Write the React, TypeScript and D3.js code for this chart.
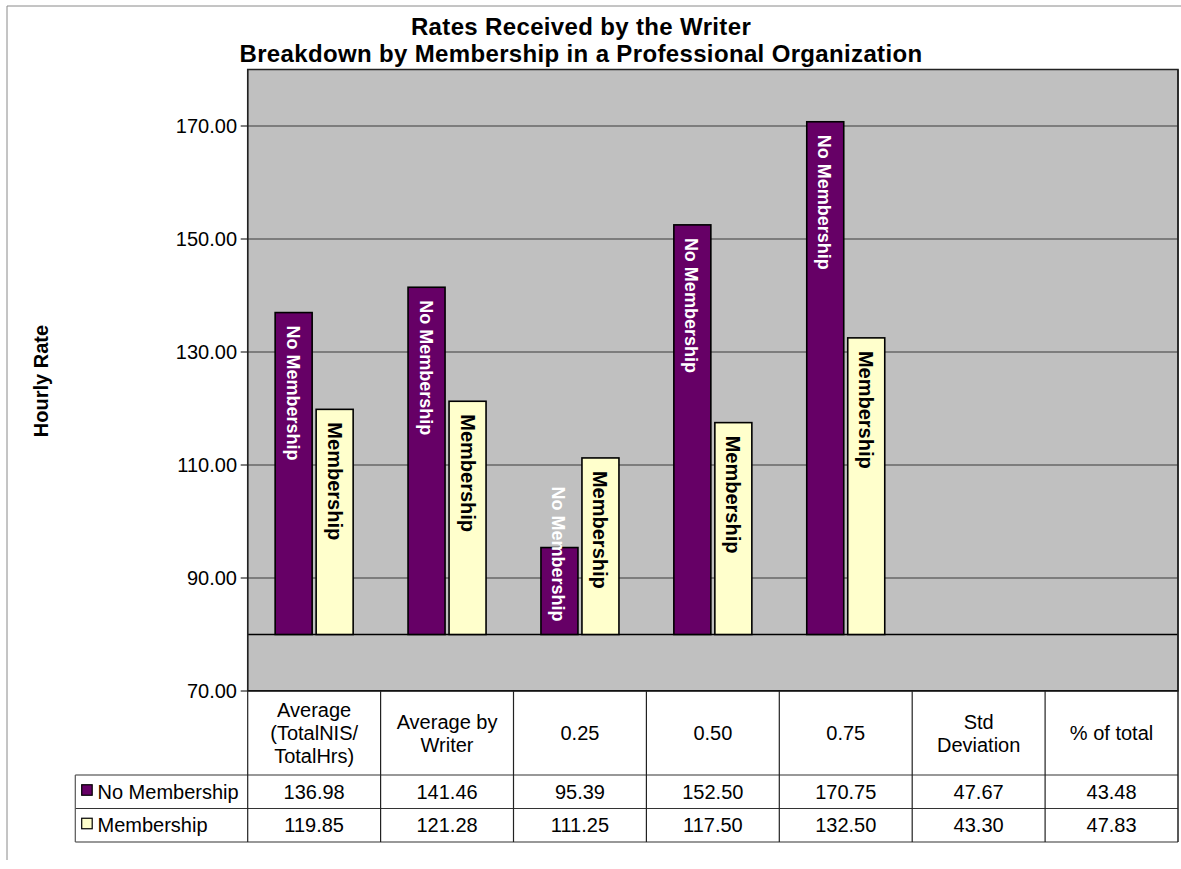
import React from "react";
import * as d3 from "d3";

const categories: string[][] = [
  ["Average", "(TotalNIS/", "TotalHrs)"],
  ["Average by", "Writer"],
  ["0.25"],
  ["0.50"],
  ["0.75"],
  ["Std", "Deviation"],
  ["% of total"],
];
const categoryKeys = ["avgTotal", "avgWriter", "q25", "q50", "q75", "std", "pct"];
const noMembership = [136.98, 141.46, 95.39, 152.5, 170.75, 47.67, 43.48];
const membership = [119.85, 121.28, 111.25, 117.5, 132.5, 43.3, 47.83];
const seriesNames = ["No Membership", "Membership"];
const seriesColors = ["#660066", "#FFFFCC"];
const labelColors = ["#FFFFFF", "#000000"];
const yTicks = [70, 90, 110, 130, 150, 170];
const yDomain = [70, 180];
const crossValue = 80;
const titleLines = ["Rates Received by the Writer", "Breakdown by Membership in a Professional Organization"];
const yTitle = "Hourly Rate";

const FONT = "'Liberation Sans', Arial, Helvetica, sans-serif";

export default function App() {
  const W = 1181;
  const H = 869;
  const plotL = 247.7;
  const plotR = 1178;
  const plotT = 69.5;
  const plotB = 691;
  const headerB = 775;
  const row1B = 808.5;
  const row2B = 842;
  const legendL = 75.3;

  const y = d3.scaleLinear().domain(yDomain).range([plotB, plotT]);
  const x = d3.scaleBand<string>().domain(categoryKeys).range([plotL, plotR]).padding(0);
  const inner = d3
    .scaleBand<string>()
    .domain(seriesNames)
    .range([-39, 39])
    .paddingInner(0.0976)
    .paddingOuter(0);

  const series = [noMembership, membership];
  const labelSizes = [18, 20];
  const labelLen = [7.5, 5.89];

  const baseY = y(crossValue);

  const bars: React.ReactNode[] = [];
  const labels: React.ReactNode[] = [];
  series.forEach((vals, si) => {
    vals.forEach((v, ci) => {
      if (v <= crossValue) return;
      const key = categoryKeys[ci];
      const bx = (x(key) as number) + x.bandwidth() / 2 + (inner(seriesNames[si]) as number);
      const bw = inner.bandwidth();
      const top = y(v);
      bars.push(
        <rect
          key={`b-${si}-${ci}`}
          x={bx}
          y={top}
          width={bw}
          height={baseY - top}
          fill={seriesColors[si]}
          stroke="#000"
          strokeWidth={1.6}
        />
      );
      const fs = labelSizes[si];
      const len = labelLen[si] * fs;
      const pad = 13;
      let start = top + pad;
      if (baseY - top < len + 2 * pad) start = baseY - pad - len;
      const cx = bx + bw / 2;
      labels.push(
        <text
          key={`l-${si}-${ci}`}
          transform={`translate(${cx - 7},${start}) rotate(90)`}
          fontFamily={FONT}
          fontWeight="bold"
          fontSize={fs}
          fill={labelColors[si]}
        >
          {seriesNames[si]}
        </text>
      );
    });
  });

  const gridVals = yTicks.filter((t) => t > yDomain[0]);

  const rowCenters = [(headerB + row1B) / 2, (row1B + row2B) / 2];

  return (
    <svg
      width={W}
      height={H}
      style={{ position: "absolute", left: 0, top: 0, background: "#fff" }}
    >
      {/* chart area border */}
      <line x1={7} y1={6} x2={W} y2={6} stroke="#8a8a8a" strokeWidth={1} />
      <line x1={7} y1={6} x2={7} y2={860} stroke="#8a8a8a" strokeWidth={1} />

      {/* title */}
      {titleLines.map((t, i) => (
        <text
          key={`t${i}`}
          x={581}
          y={35 + i * 27}
          textAnchor="middle"
          fontFamily={FONT}
          fontWeight="bold"
          fontSize={24}
          letterSpacing={0.35}
          fill="#000"
        >
          {t}
        </text>
      ))}

      {/* plot area */}
      <rect x={plotL} y={plotT} width={plotR - plotL} height={plotB - plotT} fill="#C0C0C0" />
      {gridVals.map((t) => (
        <line key={`g${t}`} x1={plotL} x2={plotR} y1={y(t)} y2={y(t)} stroke="#3a3a3a" strokeWidth={1} />
      ))}
      <line x1={plotL} x2={plotR} y1={baseY} y2={baseY} stroke="#000" strokeWidth={1.5} />
      <rect
        x={plotL}
        y={plotT}
        width={plotR - plotL}
        height={plotB - plotT}
        fill="none"
        stroke="#222"
        strokeWidth={1.5}
      />

      {/* y axis ticks */}
      {yTicks.map((t) => (
        <g key={`yt${t}`}>
          <line x1={plotL - 7} x2={plotL} y1={y(t)} y2={y(t)} stroke="#000" strokeWidth={1} />
          <text
            x={237}
            y={y(t) + 7}
            textAnchor="end"
            fontFamily={FONT}
            fontSize={20}
            fill="#000"
          >
            {d3.format(".2f")(t)}
          </text>
        </g>
      ))}
      <text
        transform={`translate(48,381) rotate(-90)`}
        textAnchor="middle"
        fontFamily={FONT}
        fontWeight="bold"
        fontSize={20}
        fill="#000"
      >
        {yTitle}
      </text>

      {bars}
      {labels}

      {/* data table */}
      <rect x={plotL} y={plotB} width={plotR - plotL} height={row2B - plotB} fill="#fff" />
      {[headerB, row1B, row2B].map((yy, i) => (
        <line key={`hr${i}`} x1={legendL} x2={plotR} y1={yy} y2={yy} stroke="#333" strokeWidth={1.2} />
      ))}
      <line x1={plotL} x2={plotR} y1={plotB} y2={plotB} stroke="#000" strokeWidth={1.5} />
      <line x1={legendL} x2={legendL} y1={headerB} y2={row2B} stroke="#555" strokeWidth={1.2} />
      {categoryKeys.map((k, i) => (
        <line
          key={`v${i}`}
          x1={x(k) as number}
          x2={x(k) as number}
          y1={i === 0 ? plotT : plotB}
          y2={row2B}
          stroke="#222"
          strokeWidth={1.2}
        />
      ))}
      <line x1={plotR} x2={plotR} y1={plotT} y2={row2B} stroke="#222" strokeWidth={1.5} />

      {categories.map((lines, ci) => {
        const cx = (x(categoryKeys[ci]) as number) + x.bandwidth() / 2;
        const n = lines.length;
        return (
          <g key={`c${ci}`}>
            {lines.map((ln, li) => (
              <text
                key={li}
                x={cx}
                y={733 + (li - (n - 1) / 2) * 23 + 7}
                textAnchor="middle"
                fontFamily={FONT}
                fontSize={20}
                fill="#000"
              >
                {ln}
              </text>
            ))}
          </g>
        );
      })}

      {series.map((vals, si) => (
        <g key={`row${si}`}>
          <rect
            x={81.7}
            y={rowCenters[si] - 7}
            width={10.5}
            height={10.5}
            fill={seriesColors[si]}
            stroke="#000"
            strokeWidth={1.2}
          />
          <text x={97.5} y={rowCenters[si] + 7} fontFamily={FONT} fontSize={20} fill="#000">
            {seriesNames[si]}
          </text>
          {vals.map((v, ci) => (
            <text
              key={ci}
              x={(x(categoryKeys[ci]) as number) + x.bandwidth() / 2}
              y={rowCenters[si] + 7}
              textAnchor="middle"
              fontFamily={FONT}
              fontSize={20}
              fill="#000"
            >
              {d3.format(".2f")(v)}
            </text>
          ))}
        </g>
      ))}
    </svg>
  );
}
